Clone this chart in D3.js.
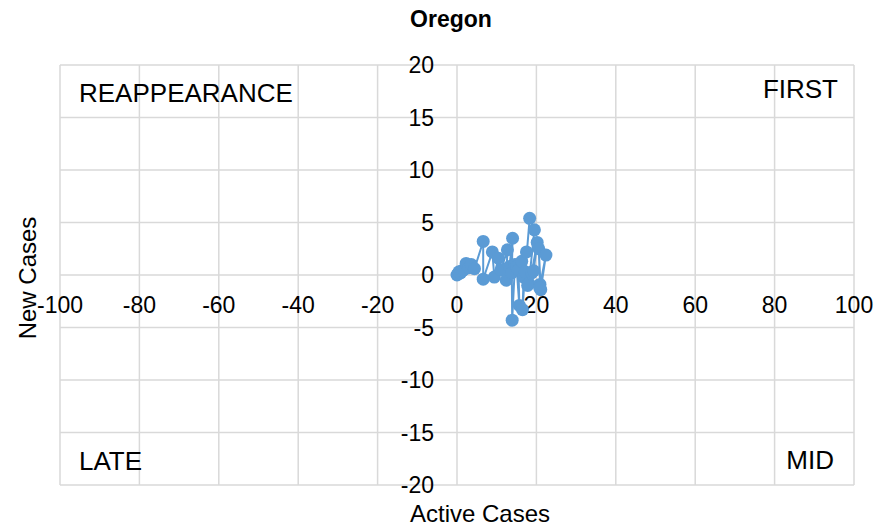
<!DOCTYPE html>
<html>
<head>
<meta charset="utf-8">
<script src="https://cdn.jsdelivr.net/npm/d3@7/dist/d3.min.js"></script>
<style>
  body { margin: 0; background: #fff; }
  text { font-family: "Liberation Sans", Arial, sans-serif; fill: #000; }
</style>
</head>
<body>
<svg id="chart" width="892" height="529"></svg>
<script>
// Daily trajectory for Oregon: active cases (x) against new cases (y)
const activeCases = [0, 0.2, 0.5, 0.9, 1.3, 1.7, 2.3, 3.0, 3.6, 4.4, 6.6, 6.6, 8.9, 9.4, 10.4, 11.1,
  12.7, 12.4, 13.2, 14.0, 13.8, 13.9, 14.6, 15.0, 15.7, 15.5, 16.3, 17.5, 16.5, 16.8, 17.2, 18.3,
  19.5, 18.1, 18.8, 20.2, 19.3, 17.8, 20.9, 20.6, 21.1, 22.4, 20.8];
const newCases = [0, 0.1, 0.3, 0.2, 0.4, 0.5, 1.1, 0.7, 1.0, 0.6, 3.2, -0.4, 2.2, -0.2, 1.6, 0.5,
  2.4, -0.5, 0.8, 3.5, 0.2, -4.3, 1.0, 0.8, -2.9, 0.5, 1.3, 2.2, -3.3, -0.2, 0.3, 5.4,
  4.3, -0.8, 0.2, 3.1, 0.4, -1.0, -0.9, 2.5, -1.4, 1.9, -1.2];

const xTicks = [-100, -80, -60, -40, -20, 0, 20, 40, 60, 80, 100];
const yTicks = [-20, -15, -10, -5, 0, 5, 10, 15, 20];
const quadrantLabels = ["REAPPEARANCE", "FIRST", "LATE", "MID"];

const svg = d3.select("#chart");
const plotL = 60, plotR = 854, plotT = 65, plotB = 485;
const x = d3.scaleLinear().domain([-100, 100]).range([plotL, plotR]);
const y = d3.scaleLinear().domain([-20, 20]).range([plotB, plotT]);
const grid = "#d9d9d9";
const blue = "#5b9bd5";

// gridlines
svg.append("g").selectAll("line").data(xTicks).join("line")
  .attr("x1", d => x(d)).attr("x2", d => x(d))
  .attr("y1", plotT).attr("y2", plotB)
  .attr("stroke", grid).attr("stroke-width", 1.5);
svg.append("g").selectAll("line").data(yTicks).join("line")
  .attr("x1", plotL).attr("x2", plotR)
  .attr("y1", d => y(d)).attr("y2", d => y(d))
  .attr("stroke", grid).attr("stroke-width", 1.5);

// x tick labels along the zero line
svg.append("g").selectAll("text").data(xTicks).join("text")
  .attr("x", d => x(d)).attr("y", y(0) + 38)
  .attr("text-anchor", "middle").attr("font-size", 23)
  .text(d => d);

// y tick labels beside the zero line
svg.append("g").selectAll("text").data(yTicks).join("text")
  .attr("x", x(0) - 23).attr("y", d => y(d))
  .attr("dy", "0.35em")
  .attr("text-anchor", "end").attr("font-size", 23)
  .text(d => d);

// quadrant names
const qPos = [
  { x: plotL + 19, y: plotT + 37, a: "start" },
  { x: plotR - 16, y: plotT + 33, a: "end" },
  { x: plotL + 19, y: plotB - 15, a: "start" },
  { x: plotR - 20, y: plotB - 16, a: "end" }
];
svg.append("g").selectAll("text").data(quadrantLabels).join("text")
  .attr("x", (d, i) => qPos[i].x).attr("y", (d, i) => qPos[i].y)
  .attr("text-anchor", (d, i) => qPos[i].a).attr("font-size", 26)
  .text(d => d);

// series
const pts = activeCases.map((v, i) => [v, newCases[i]]);
svg.append("path").datum(pts)
  .attr("fill", "none").attr("stroke", blue).attr("stroke-width", 2)
  .attr("d", d3.line().x(d => x(d[0])).y(d => y(d[1])));
svg.append("g").selectAll("circle").data(pts).join("circle")
  .attr("cx", d => x(d[0])).attr("cy", d => y(d[1])).attr("r", 6.5)
  .attr("fill", blue);

// titles
svg.append("text").attr("x", 451).attr("y", 27)
  .attr("text-anchor", "middle").attr("font-size", 23).attr("font-weight", "bold")
  .text("Oregon");
svg.append("text").attr("x", 480).attr("y", 522)
  .attr("text-anchor", "middle").attr("font-size", 24)
  .text("Active Cases");
svg.append("text").attr("transform", "translate(36,278) rotate(-90)")
  .attr("text-anchor", "middle").attr("font-size", 24)
  .text("New Cases");
</script>
</body>
</html>
